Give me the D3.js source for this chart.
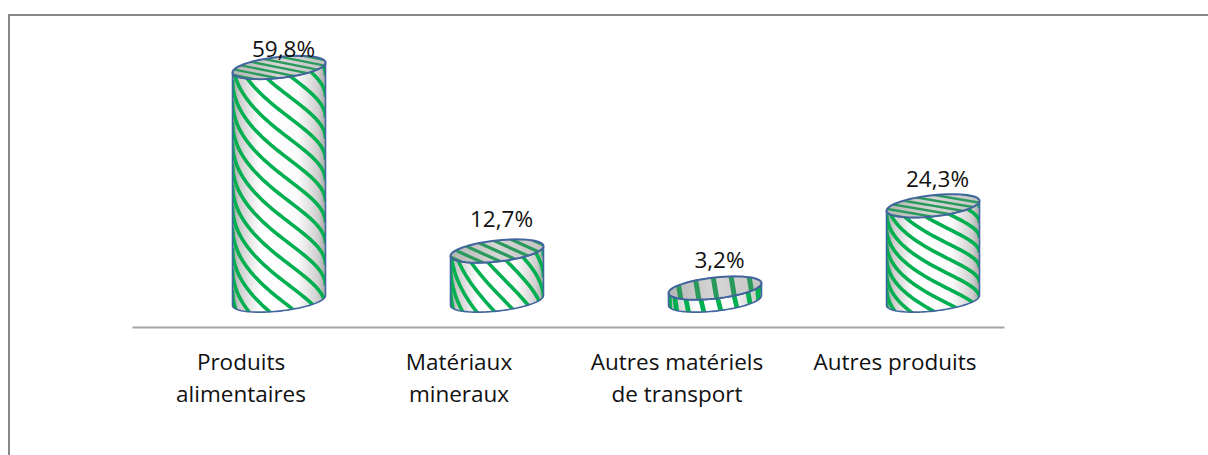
<!DOCTYPE html>
<html><head><meta charset="utf-8">
<script src="https://cdn.jsdelivr.net/npm/d3@7/dist/d3.min.js"></script>
<style>html,body{margin:0;padding:0;background:#fff}svg{display:block}text{font-family:"Open Sans",Lato,sans-serif;fill:#111}</style>
</head><body><svg id="c" width="1208" height="455"></svg>
<script>
const categories=[["Produits","alimentaires"],["Matériaux","mineraux"],["Autres matériels","de transport"],["Autres produits"]];
const values=[59.8,12.7,3.2,24.3];
const valueLabels=["59,8%","12,7%","3,2%","24,3%"];
const sideSlope=[0.9,1.15,4,0.65];
const sideGap=[21,21,68,15];
const topSlope=[0.2,0.45,6,0.17];
const topGap=[5.5,9,18,5.5];
const labelLift=[11,24,20,19];

const svg=d3.select("#c");
const defs=svg.append("defs");
svg.append("path").attr("d",d3.line()([[9,455],[9,15],[1208,15]])).attr("fill","none").attr("stroke","#868686").attr("stroke-width",2);

const x=d3.scaleBand().domain(d3.range(values.length)).range([132,1004]);
const y=d3.scaleLinear().domain([0,59.8]).range([300.5,67.5]);
const depth=38,r=46.5,minor=10.6,tilt=-0.105;

const g=defs.append("linearGradient").attr("id","side");
[[0,"#a0a0a0"],[0.08,"#cfcfcf"],[0.3,"#fff"],[0.7,"#fbfbfb"],[0.92,"#cfcfcf"],[1,"#a8a8a8"]].forEach(d=>g.append("stop").attr("offset",d[0]).attr("stop-color",d[1]));
const gt=defs.append("linearGradient").attr("id","top");
[[0,"#b5b5b5"],[0.5,"#d6d6d6"],[1,"#c4c4c4"]].forEach(d=>gt.append("stop").attr("offset",d[0]).attr("stop-color",d[1]));

const line=d3.line().x(d=>d[0]).y(d=>d[1]);
const thetas=d3.range(-90,90.01,3).map(d=>d*Math.PI/180);
const rim=(cx,cy,a)=>[cx+r*Math.cos(a),cy+r*Math.cos(a)*tilt+minor*Math.sin(a)];
const arc=(cx,cy,a0,a1)=>d3.range(a0,a1+0.001,(a1-a0)/60).map(a=>rim(cx,cy,a));

const plot=svg.append("g");
values.forEach((v,i)=>{
  const cx=x(i)+x.bandwidth()/2+depth;
  const yt=y(v),yb=y(0);
  const lower=(cy)=>arc(cx,cy,0,Math.PI);
  const side=[...lower(yt),...lower(yb).reverse()];
  const sidePath=line(side)+"Z";
  const id="clip"+i;
  defs.append("clipPath").attr("id",id).append("path").attr("d",sidePath);
  const b=plot.append("g").attr("class","bar");
  b.append("path").attr("d",sidePath).attr("fill","url(#side)");
  const st=b.append("g").attr("clip-path",`url(#${id})`);
  const span=Math.PI*r;
  const m=sideSlope[i],gap=sideGap[i];
  const vmax=(yb-yt)+minor*2;
  const kMin=Math.floor((-m*span/2-minor*2)/gap),kMax=Math.ceil((vmax+m*span/2)/gap);
  d3.range(kMin,kMax+1).forEach(k=>{
    const pts=thetas.map(t=>{
      const u=Math.sin(t),s=r*t;
      const bow=minor*Math.cos(t);
      return [cx+r*u,yt+u*r*tilt+bow+(m*s+k*gap)-minor];
    });
    st.append("path").attr("d",line(pts)).attr("fill","none").attr("stroke","#00b050").attr("stroke-width",i===2?4.8:3.6);
  });
  b.append("path").attr("d",sidePath).attr("fill","none").attr("stroke","#41659c").attr("stroke-width",1.6);
  const topPath=line(arc(cx,yt,0,2*Math.PI))+"Z";
  const tid="tclip"+i;
  defs.append("clipPath").attr("id",tid).append("path").attr("d",topPath);
  b.append("path").attr("d",topPath).attr("fill","url(#top)");
  const ts=b.append("g").attr("clip-path",`url(#${tid})`);
  const tm=topSlope[i],tg=topGap[i];
  d3.range(-12,13).forEach(k=>{
    let p;
    if(tm>1){const x0=cx+k*tg;p=[[x0-30/tm,yt-30],[x0+30/tm,yt+30]];}
    else{const y0=yt+k*tg;p=[[cx-60,y0-60*tm],[cx+60,y0+60*tm]];}
    ts.append("path").attr("d",line(p)).attr("stroke","#2a9a5c").attr("stroke-width",i===2?5:(i===1?3.2:2.4)).attr("fill","none");
  });
  b.append("path").attr("d",topPath).attr("fill","none").attr("stroke","#41659c").attr("stroke-width",2);
  svg.append("text").attr("class","val").attr("x",cx+4.5).attr("y",yt-labelLift[i]).attr("text-anchor","middle").attr("font-size",22.5).text(valueLabels[i]);
});

const axis=d3.axisBottom(x).tickSize(0).tickPadding(0).tickFormat(()=>"");
const ax=svg.append("g").attr("transform","translate(0,327)").call(axis);
ax.attr("font-family",null).attr("font-size",null);
ax.select(".domain").attr("stroke","#a6a6a6").attr("stroke-width",2);
ax.selectAll(".tick").each(function(d){
  const t=d3.select(this).select("text").attr("y",0).attr("dy",null).attr("font-size",22.5).attr("text-anchor","middle");
  t.text(null);
  categories[d].forEach((s,j)=>t.append("tspan").attr("x",0).attr("y",43+j*32).text(s));
});
</script></body></html>
